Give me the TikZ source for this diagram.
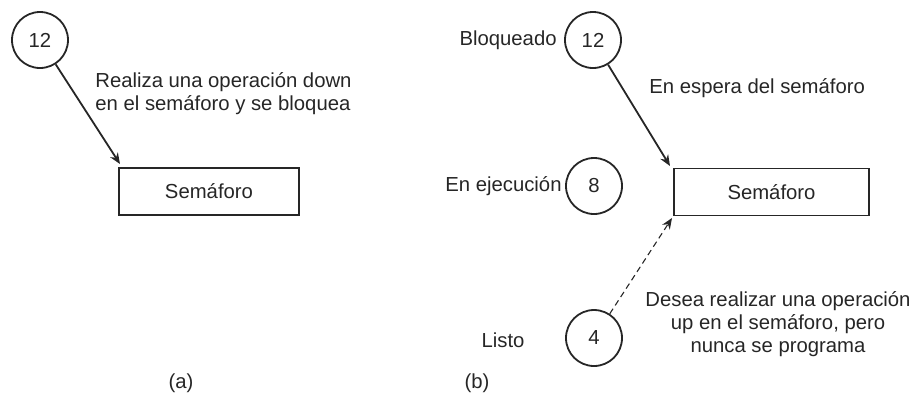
\documentclass[tikz,border=0pt]{standalone}
\usepackage{fontspec}
\setmainfont{Liberation Sans}
\usetikzlibrary{arrows.meta}
\begin{document}
\begin{tikzpicture}[x=0.5pt,y=-0.5pt,
  every node/.style={font=\fontsize{10.15}{11.5}\selectfont, text=black!85},
  proc/.style={draw=black!85, circle, line width=0.9pt, minimum size=28pt, inner sep=0pt},
  sem/.style={draw=black!85, rectangle, line width=0.9pt, minimum height=23.5pt, inner sep=0pt},
  lbl/.style={inner sep=0pt},
  solidarrow/.style={draw=black!85, line width=0.9pt, -{Stealth[length=5.5pt,width=4.5pt]}},
  dasharrow/.style={draw=black!85, line width=0.55pt, dash pattern=on 3pt off 2pt, -{Stealth[length=5.5pt,width=4.5pt]}}]
\useasboundingbox (0,0) rectangle (920,409);
% (a)
\node[proc] (pa) at (40,40) {12};
\node[sem, minimum width=90pt] (sa) at (209,191.5) {Semáforo};
\coordinate (ta) at (120,164);
\draw[solidarrow] (pa) -- (ta);
\node[lbl, anchor=west, align=left] (da) at (95,93.5) {Realiza una operación down\\en el semáforo y se bloquea};
\node[lbl] (capa) at (181,383) {(a)};
% (b)
\node[proc] (pb12) at (593,40) {12};
\node[proc] (pb8) at (594,186) {8};
\node[proc] (pb4) at (594,338) {4};
\node[lbl, anchor=east] (lblq) at (557,40) {Bloqueado};
\node[lbl, anchor=east] (lble) at (562,186) {En ejecución};
\node[lbl] (lbll) at (503,340) {Listo};
\node[sem, minimum width=97.5pt] (sb) at (771.5,192) {Semáforo};
\coordinate (tb) at (670,166);
\coordinate (tc) at (672,218);
\draw[solidarrow] (pb12) -- (tb);
\draw[dasharrow] (pb4) -- (tc);
\node[lbl, anchor=west] (db) at (649,88) {En espera del semáforo};
\node[lbl, align=center] (dc) at (778,324) {Desea realizar una operación\\up en el semáforo, pero\\nunca se programa};
\node[lbl] (capb) at (477,383) {(b)};
\end{tikzpicture}
\end{document}
